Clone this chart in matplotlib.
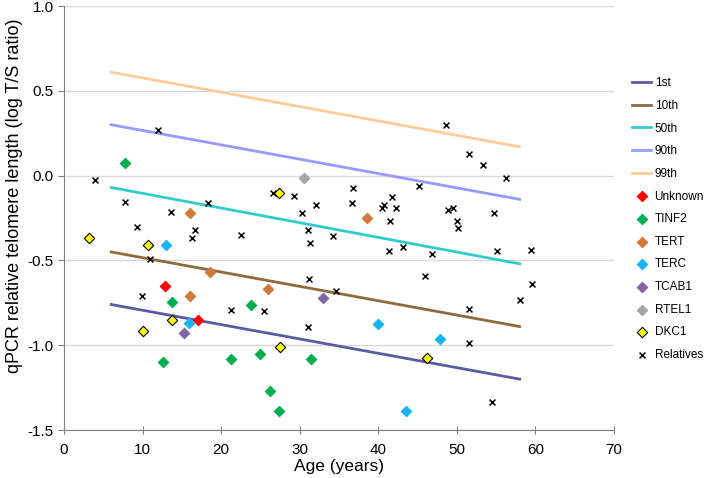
import numpy as np
import matplotlib.pyplot as plt

plt.rcParams['font.family'] = ['Liberation Sans', 'DejaVu Sans']

# Percentile lines (age start/end, log T/S)
pct_age = [6, 58]
pct_names = ['1st', '10th', '50th', '90th', '99th']
pct_vals = [[-0.76, -1.20], [-0.45, -0.89], [-0.07, -0.52], [0.30, -0.14], [0.61, 0.17]]
pct_colors = ['#5b5ba3', '#8c6b3c', '#33cccc', '#9999ff', '#ffcc99']

# Patients by gene
unknown_age = [12.9, 17.0]
unknown_tl = [-0.65, -0.85]
tinf2_age = [7.8, 13.7, 23.8, 12.6, 21.3, 24.9, 31.4, 26.2, 27.3]
tinf2_tl = [0.076, -0.745, -0.76, -1.10, -1.08, -1.05, -1.08, -1.27, -1.39]
tert_age = [16.0, 18.6, 16.0, 38.5, 25.9]
tert_tl = [-0.22, -0.57, -0.71, -0.25, -0.67]
terc_age = [13.0, 15.9, 39.9, 47.8, 43.5]
terc_tl = [-0.41, -0.87, -0.873, -0.965, -1.39]
tcab1_age = [15.3, 32.9]
tcab1_tl = [-0.93, -0.72]
rtel1_age = [30.5]
rtel1_tl = [-0.012]
dkc1_age = [3.2, 10.65, 13.8, 10.1, 27.4, 27.5, 46.2]
dkc1_tl = [-0.37, -0.41, -0.85, -0.916, -0.10, -1.01, -1.075]

# Relatives
rel_age = [3.9, 11.9, 7.8, 13.6, 18.3, 9.25, 16.7, 16.25, 22.5, 11.0, 9.9, 21.25,
           48.6, 26.6, 29.3, 36.8, 45.2, 32.1, 36.6, 41.7, 40.7, 40.5, 42.3, 48.9,
           49.55, 30.3, 41.45, 31.1, 34.2, 31.3, 41.4, 43.2, 46.8, 31.2, 45.9, 34.6,
           25.4, 31.1, 51.5, 53.3, 56.2, 50.06, 50.15, 54.7, 55.1, 59.4, 59.6, 58.1,
           51.6, 51.6, 54.5]
rel_tl = [-0.026, 0.27, -0.157, -0.213, -0.16, -0.303, -0.32, -0.37, -0.35, -0.49, -0.71, -0.79,
          0.30, -0.10, -0.12, -0.075, -0.063, -0.175, -0.163, -0.128, -0.173, -0.19, -0.19, -0.203,
          -0.19, -0.22, -0.266, -0.32, -0.356, -0.40, -0.446, -0.42, -0.46, -0.61, -0.59, -0.68,
          -0.80, -0.89, 0.126, 0.062, -0.016, -0.266, -0.307, -0.218, -0.443, -0.439, -0.637, -0.733,
          -0.785, -0.985, -1.337]

fig = plt.figure(figsize=(7.09, 4.78), dpi=100)
ax = fig.add_axes([0.0903, 0.1004, 0.7757, 0.887])

for name, vals, c in zip(pct_names, pct_vals, pct_colors):
    ax.plot(pct_age, vals, color=c, linewidth=2, label=name)

groups = [
    ('Unknown', unknown_age, unknown_tl, '#ff0000', '#ff0000'),
    ('TINF2', tinf2_age, tinf2_tl, '#00b050', '#00b050'),
    ('TERT', tert_age, tert_tl, '#d07a3a', '#d07a3a'),
    ('TERC', terc_age, terc_tl, '#18b4f4', '#18b4f4'),
    ('TCAB1', tcab1_age, tcab1_tl, '#8064a2', '#8064a2'),
    ('RTEL1', rtel1_age, rtel1_tl, '#a5a5a5', '#a5a5a5'),
    ('DKC1', dkc1_age, dkc1_tl, '#ffff00', '#000000'),
]
for name, a, t, fc, ec in groups:
    ax.scatter(a, t, marker='D', s=28, facecolor=fc, edgecolor=ec,
               linewidth=0.8, zorder=3, label=name)

ax.scatter(rel_age, rel_tl, marker='x', s=18, color='black', linewidth=1.1,
           zorder=3, label='Relatives')

ax.set_xlim(0, 70)
ax.set_ylim(-1.5, 1.0)
ax.set_xticks(np.arange(0, 71, 10))
ax.set_yticks(np.arange(-1.5, 1.01, 0.5))
ax.set_yticklabels([f'{v:.1f}' for v in np.arange(-1.5, 1.01, 0.5)])
ax.grid(axis='y', color='#d9d9d9', linewidth=1)
ax.set_axisbelow(True)
for s in ['top', 'right']:
    ax.spines[s].set_visible(False)
for s in ['left', 'bottom']:
    ax.spines[s].set_color('#808080')
ax.tick_params(axis='both', colors='#808080', labelcolor='black', labelsize=11)
ax.tick_params(axis='x', direction='inout', length=6, pad=6)
ax.tick_params(axis='y', direction='out', length=4)
ax.set_xlabel('Age (years)', fontsize=12.5, labelpad=2)
ax.set_ylabel('qPCR relative telomere length (log T/S ratio)', fontsize=13)
ax.yaxis.set_label_coords(-0.075, 0.552)

ax.legend(loc='upper left', bbox_to_anchor=(0.885, 0.848), bbox_transform=fig.transFigure,
          frameon=False, fontsize=8.5, handlelength=1.6, handletextpad=0.3,
          labelspacing=0.9, borderaxespad=0)

fig.savefig('out.png', dpi=100)
